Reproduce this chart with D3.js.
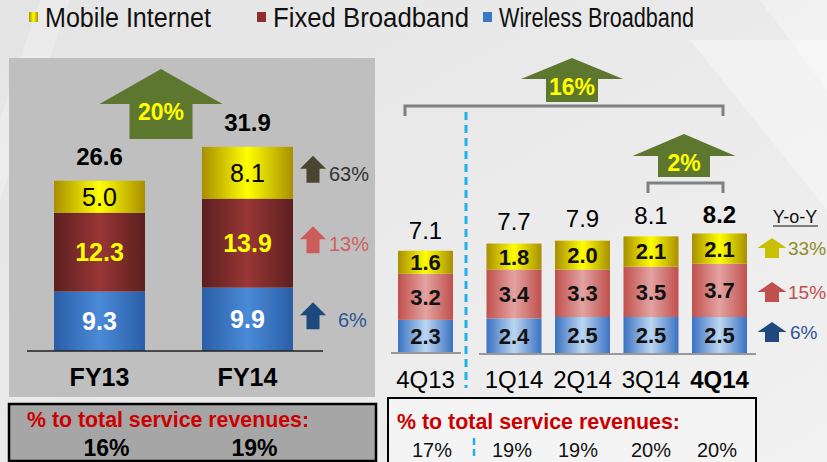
<!DOCTYPE html>
<html>
<head>
<meta charset="utf-8">
<script src="https://cdn.jsdelivr.net/npm/d3@7"></script>
<style>
  body { margin: 0; background: #ececec; }
  svg text { font-family: "Liberation Sans", Arial, sans-serif; }
</style>
</head>
<body>
<script>
// data
var seriesKeys = ["wireless", "fixed", "mobile"];
var legendLabels = ["Mobile Internet", "Fixed Broadband", "Wireless Broadband"];

var fyCats = ["FY13", "FY14"];
var fyWireless = [9.3, 9.9];
var fyFixed = [12.3, 13.9];
var fyMobile = [5.0, 8.1];
var fyTotals = [26.6, 31.9];
var fyGrowth = ["63%", "13%", "6%"];   // mobile, fixed, wireless
var fyShare = ["16%", "19%"];

var qCats = ["4Q13", "1Q14", "2Q14", "3Q14", "4Q14"];
var qWireless = [2.3, 2.4, 2.5, 2.5, 2.5];
var qFixed = [3.2, 3.4, 3.3, 3.5, 3.7];
var qMobile = [1.6, 1.8, 2.0, 2.1, 2.1];
var qTotals = [7.1, 7.7, 7.9, 8.1, 8.2];
var qGrowth = ["33%", "15%", "6%"];
var qShare = ["17%", "19%", "19%", "20%", "20%"];

var width = 827, height = 462;

var svg = d3.select("body").append("svg")
    .attr("width", width)
    .attr("height", height);

var defs = svg.append("defs");

function hgrad(id, edge, mid) {
    var g = defs.append("linearGradient").attr("id", id)
        .attr("x1", "0").attr("x2", "1").attr("y1", "0").attr("y2", "0");
    g.append("stop").attr("offset", "0").attr("stop-color", edge);
    g.append("stop").attr("offset", "0.5").attr("stop-color", mid);
    g.append("stop").attr("offset", "1").attr("stop-color", edge);
}
hgrad("gYel", "#a88f00", "#ffff00");
hgrad("gRedL", "#5c1f1f", "#993636");
hgrad("gBluL", "#2a5ea6", "#4a8ad8");
hgrad("gRedR", "#c0504d", "#e3a3a1");
hgrad("gBluR", "#3a72c2", "#bcd6f1");

var bg = defs.append("linearGradient").attr("id", "bg")
    .attr("x1", "0").attr("x2", "1").attr("y1", "0").attr("y2", "1");
bg.append("stop").attr("offset", "0").attr("stop-color", "#e4e4e4");
bg.append("stop").attr("offset", "1").attr("stop-color", "#f1f1f1");

// background + soft white streaks
svg.append("rect").attr("width", width).attr("height", height).attr("fill", "url(#bg)");
svg.append("polygon").attr("points", "690,40 827,40 827,210").attr("fill", "#fff").attr("opacity", 0.35);
svg.append("polygon").attr("points", "760,0 827,0 827,90").attr("fill", "#fff").attr("opacity", 0.3);
svg.append("polygon").attr("points", "0,120 40,0 70,0 0,200").attr("fill", "#fff").attr("opacity", 0.25);

// legend
var legendFill = ["url(#gYel)", "#8e2e2e", "#3a78c8"];
var legendX = [29, 257, 483];
var legendW = [166, 196, 195];
var lg = svg.append("g").selectAll("g").data(legendLabels).enter().append("g");
lg.append("rect")
    .attr("x", function (d, i) { return legendX[i]; })
    .attr("y", 12).attr("width", 9).attr("height", 10)
    .attr("fill", function (d, i) { return legendFill[i]; });
lg.append("text")
    .attr("x", function (d, i) { return legendX[i] + 16; })
    .attr("y", 27)
    .attr("font-size", 27)
    .attr("textLength", function (d, i) { return legendW[i]; })
    .attr("lengthAdjust", "spacingAndGlyphs")
    .attr("fill", "#111")
    .text(function (d) { return d; });

// block arrow helper (tip at top centre)
function blockArrow(g, cx, top, w, h, headH, bodyW, fill) {
    var pts = [
        [cx, top], [cx + w / 2, top + headH], [cx + bodyW / 2, top + headH],
        [cx + bodyW / 2, top + h], [cx - bodyW / 2, top + h],
        [cx - bodyW / 2, top + headH], [cx - w / 2, top + headH]
    ];
    return g.append("polygon").attr("points", pts.map(function (p) { return p.join(","); }).join(" "))
        .attr("fill", fill);
}

// ---------------- left panel (full years) ----------------
var left = svg.append("g");
left.append("rect").attr("x", 9).attr("y", 58).attr("width", 366).attr("height", 339).attr("fill", "#bfbfbf");

var fyRows = fyCats.map(function (c, i) {
    return { cat: c, wireless: fyWireless[i], fixed: fyFixed[i], mobile: fyMobile[i] };
});
var fyStack = d3.stack().keys(seriesKeys)(fyRows);

var xL = d3.scaleBand().domain(fyCats).range([54, 293]).paddingInner(0.385);
var yL = d3.scaleLinear().domain([0, 32]).range([351, 351 - 6.4 * 32]);

var fillL = { wireless: "url(#gBluL)", fixed: "url(#gRedL)", mobile: "url(#gYel)" };
var txtL = {
    wireless: { fill: "#fff", weight: "bold" },
    fixed: { fill: "#ffff00", weight: "bold" },
    mobile: { fill: "#000", weight: "normal" }
};

fyStack.forEach(function (layer) {
    var k = layer.key;
    var g = left.append("g");
    g.selectAll("rect").data(layer).enter().append("rect")
        .attr("x", function (d) { return xL(d.data.cat); })
        .attr("width", xL.bandwidth())
        .attr("y", function (d) { return yL(d[1]); })
        .attr("height", function (d) { return yL(d[0]) - yL(d[1]); })
        .attr("fill", fillL[k]);
    g.selectAll("text").data(layer).enter().append("text")
        .attr("x", function (d) { return xL(d.data.cat) + xL.bandwidth() / 2; })
        .attr("y", function (d) { return (yL(d[0]) + yL(d[1])) / 2 + 9; })
        .attr("text-anchor", "middle")
        .attr("font-size", 25)
        .attr("font-weight", txtL[k].weight)
        .attr("fill", txtL[k].fill)
        .text(function (d) { return d.data[k].toFixed(1); });
});

left.append("line").attr("x1", 27).attr("x2", 323).attr("y1", 351).attr("y2", 351)
    .attr("stroke", "#222").attr("stroke-width", 1.5);

left.selectAll(".tot").data(fyTotals).enter().append("text")
    .attr("x", function (d, i) { return xL(fyCats[i]) + xL.bandwidth() / 2; })
    .attr("y", function (d) { return yL(d) - 16; })
    .attr("text-anchor", "middle")
    .attr("font-size", 24).attr("font-weight", "bold").attr("fill", "#000")
    .text(function (d) { return d.toFixed(1); });

left.selectAll(".cat").data(fyCats).enter().append("text")
    .attr("x", function (d) { return xL(d) + xL.bandwidth() / 2; })
    .attr("y", 386)
    .attr("text-anchor", "middle")
    .attr("font-size", 25).attr("font-weight", "bold").attr("fill", "#000")
    .text(function (d) { return d; });

blockArrow(left, 161, 69, 123, 70, 35, 63, "#5e772f");
left.append("text").attr("x", 161).attr("y", 120).attr("text-anchor", "middle")
    .attr("font-size", 23).attr("font-weight", "bold").attr("fill", "#ffff00").text("20%");

// growth markers beside FY14 bar, one per stacked segment
var fyLast = fyStack.map(function (layer) { return layer[1]; }).reverse();
var leftArrowCol = ["#4a4530", "#cd5c5c", "#1f497d"];
var leftTextCol = ["#333", "#d06060", "#2f5597"];
fyGrowth.forEach(function (gv, i) {
    var mid = (yL(fyLast[i][0]) + yL(fyLast[i][1])) / 2;
    blockArrow(left, 313, mid - 17, 26, 27, 13, 13, leftArrowCol[i]);
    left.append("text").attr("x", i === 2 ? 338 : 329).attr("y", mid + 8)
        .attr("font-size", 20).attr("fill", leftTextCol[i]).text(gv);
});

// left share box
left.append("rect").attr("x", 9).attr("y", 404).attr("width", 367).attr("height", 57)
    .attr("fill", "#a6a6a6").attr("stroke", "#000").attr("stroke-width", 2.5);
left.append("text").attr("x", 27).attr("y", 427)
    .attr("font-size", 22).attr("font-weight", "bold").attr("fill", "#cc0000")
    .attr("textLength", 282).attr("lengthAdjust", "spacingAndGlyphs")
    .text("% to total service revenues:");
left.selectAll(".share").data(fyShare).enter().append("text")
    .attr("x", function (d, i) { return xL(fyCats[i]) + xL.bandwidth() / 2 + 7; })
    .attr("y", 456)
    .attr("text-anchor", "middle")
    .attr("font-size", 23).attr("font-weight", "bold").attr("fill", "#000")
    .text(function (d) { return d; });

// ---------------- right panel (quarters) ----------------
var right = svg.append("g");

var qRows = qCats.map(function (c, i) {
    return { cat: c, wireless: qWireless[i], fixed: qFixed[i], mobile: qMobile[i] };
});
var qStack = d3.stack().keys(seriesKeys)(qRows);

var xR = d3.scaleBand().domain(qCats).range([418, 747]).paddingInner(0.197);
function qx(c) { return xR(c) - (c === qCats[0] ? 20 : 0); }
var yR = d3.scaleLinear().domain([0, 9]).range([353, 353 - 14.4 * 9]);

var fillR = { wireless: "url(#gBluR)", fixed: "url(#gRedR)", mobile: "url(#gYel)" };

qStack.forEach(function (layer) {
    var k = layer.key;
    var g = right.append("g");
    g.selectAll("rect").data(layer).enter().append("rect")
        .attr("x", function (d) { return qx(d.data.cat); })
        .attr("width", xR.bandwidth())
        .attr("y", function (d) { return yR(d[1]); })
        .attr("height", function (d) { return yR(d[0]) - yR(d[1]); })
        .attr("fill", fillR[k]);
    g.selectAll("text").data(layer).enter().append("text")
        .attr("x", function (d) { return qx(d.data.cat) + xR.bandwidth() / 2; })
        .attr("y", function (d) { return (yR(d[0]) + yR(d[1])) / 2 + 8; })
        .attr("text-anchor", "middle")
        .attr("font-size", 22).attr("font-weight", "bold").attr("fill", "#111")
        .text(function (d) { return d.data[k].toFixed(1); });
});

right.append("line").attr("x1", 391).attr("x2", 461).attr("y1", 353).attr("y2", 353)
    .attr("stroke", "#999").attr("stroke-width", 2);
right.append("line").attr("x1", 479).attr("x2", 756).attr("y1", 354).attr("y2", 354)
    .attr("stroke", "#999").attr("stroke-width", 2);

right.selectAll(".tot").data(qTotals).enter().append("text")
    .attr("x", function (d, i) { return qx(qCats[i]) + xR.bandwidth() / 2; })
    .attr("y", function (d) { return yR(d) - 12; })
    .attr("text-anchor", "middle")
    .attr("font-size", 24)
    .attr("font-weight", function (d, i) { return i === qCats.length - 1 ? "bold" : "normal"; })
    .attr("fill", "#000")
    .text(function (d) { return d.toFixed(1); });

right.selectAll(".cat").data(qCats).enter().append("text")
    .attr("x", function (d) { return qx(d) + xR.bandwidth() / 2; })
    .attr("y", 388)
    .attr("text-anchor", "middle")
    .attr("font-size", 24)
    .attr("font-weight", function (d, i) { return i === qCats.length - 1 ? "bold" : "normal"; })
    .attr("fill", "#000")
    .text(function (d) { return d; });

// divider between 4Q13 and the 2014 quarters
right.append("line").attr("x1", 466).attr("x2", 466).attr("y1", 112).attr("y2", 388)
    .attr("stroke", "#1fb0ee").attr("stroke-width", 3).attr("stroke-dasharray", "8,5");

// brackets
function bracket(x1, x2, y) {
    right.append("path")
        .attr("d", "M" + x1 + "," + (y + 10) + " V" + y + " H" + x2 + " V" + (y + 10))
        .attr("fill", "none").attr("stroke", "#808080").attr("stroke-width", 3);
}
bracket(405, 723, 106);
bracket(648, 723, 183);

blockArrow(right, 572, 58, 102, 44, 21, 52, "#5e772f");
right.append("text").attr("x", 572).attr("y", 95).attr("text-anchor", "middle")
    .attr("font-size", 23).attr("font-weight", "bold").attr("fill", "#ffff00").text("16%");
blockArrow(right, 684, 134, 103, 43, 22, 52, "#5e772f");
right.append("text").attr("x", 684).attr("y", 171).attr("text-anchor", "middle")
    .attr("font-size", 23).attr("font-weight", "bold").attr("fill", "#ffff00").text("2%");

// Y-o-Y legend
right.append("text").attr("x", 795).attr("y", 223).attr("text-anchor", "middle")
    .attr("font-size", 18).attr("fill", "#111").text("Y-o-Y");
right.append("line").attr("x1", 773).attr("x2", 818).attr("y1", 226).attr("y2", 226)
    .attr("stroke", "#111").attr("stroke-width", 1.2);

var rightArrowCol = ["#c8c000", "#c0504d", "#1f497d"];
var rightTextCol = ["#8c8c22", "#c0504d", "#2f5597"];
var rightMid = [248, 292, 332];
qGrowth.forEach(function (gv, i) {
    var mid = rightMid[i];
    blockArrow(right, 772, mid - 10, 29, 20, 10, 14, rightArrowCol[i]);
    right.append("text").attr("x", i === 2 ? 790 : 788).attr("y", mid + 7)
        .attr("font-size", 19).attr("fill", rightTextCol[i]).text(gv);
});

// right share box
right.append("rect").attr("x", 388).attr("y", 398).attr("width", 368).attr("height", 72)
    .attr("fill", "#f4f4f4").attr("stroke", "#000").attr("stroke-width", 2);
right.append("text").attr("x", 397).attr("y", 429)
    .attr("font-size", 22).attr("font-weight", "bold").attr("fill", "#cc0000")
    .attr("textLength", 283).attr("lengthAdjust", "spacingAndGlyphs")
    .text("% to total service revenues:");
var shareX = [432, 512, 578, 651, 717];
right.selectAll(".share").data(qShare).enter().append("text")
    .attr("x", function (d, i) { return shareX[i]; })
    .attr("y", 457)
    .attr("text-anchor", "middle")
    .attr("font-size", 20).attr("fill", "#111")
    .text(function (d) { return d; });
right.append("line").attr("x1", 474).attr("x2", 474).attr("y1", 438).attr("y2", 456)
    .attr("stroke", "#1fb0ee").attr("stroke-width", 2.5).attr("stroke-dasharray", "7,4");
</script>
</body>
</html>
